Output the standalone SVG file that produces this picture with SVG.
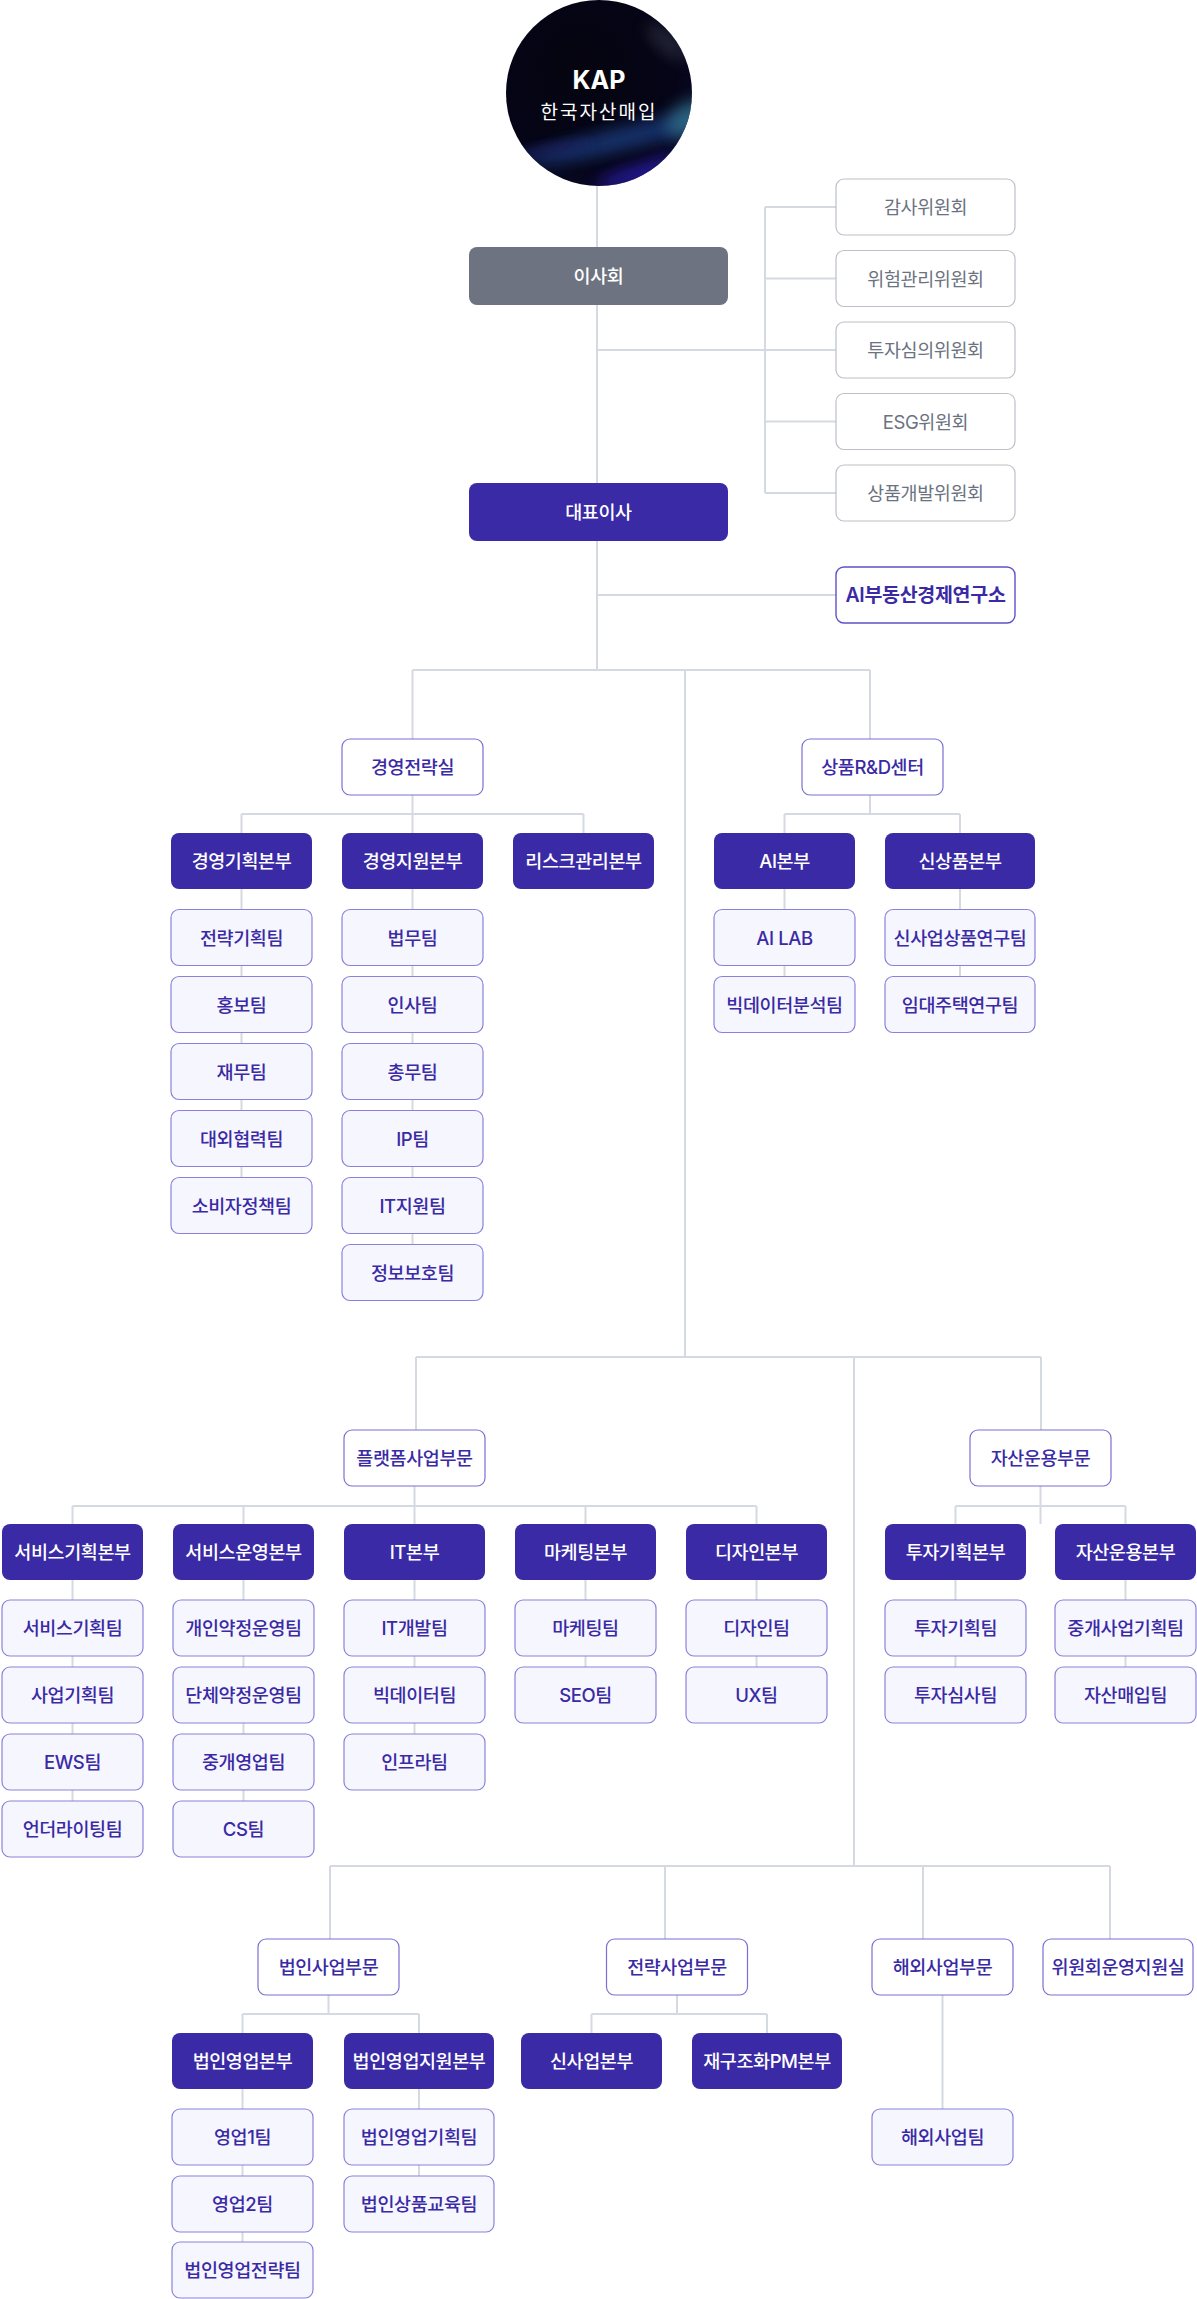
<svg xmlns="http://www.w3.org/2000/svg" width="1197" height="2299" viewBox="0 0 1197 2299">
<defs>
<style>
text{font-family:Inter,"Noto Sans CJK KR","Noto Sans",sans-serif;font-size:18.5px;text-anchor:middle;dominant-baseline:central;font-weight:500;letter-spacing:-0.4px}
.dark rect{fill:#3a2aa5}
.dark text{fill:#ffffff}
.team rect{fill:#f6f6fe;stroke:#8a82da;stroke-width:1.2}
.team text{fill:#3a2aa5}
.div rect{fill:#ffffff;stroke:#7a70d4;stroke-width:1.2}
.div text{fill:#3a2aa5}
.com rect{fill:#ffffff;stroke:#bcc0c8;stroke-width:1.2}
.com text{fill:#6b7280;font-weight:400}
.lab rect{fill:#ffffff;stroke:#5e52cc;stroke-width:1.4}
.lab text{fill:#3a2aa5;font-weight:600;font-size:19.5px;letter-spacing:-0.3px}
.board rect{fill:#6d7380}
.board text{fill:#ffffff}
#connectors path{fill:none;stroke:#d5d9e1;stroke-width:2}
</style>
<radialGradient id="gBase" cx="0.4" cy="0.35" r="0.75">
<stop offset="0" stop-color="#05040f"/>
<stop offset="0.7" stop-color="#060518"/>
<stop offset="1" stop-color="#0a0a2a"/>
</radialGradient>
<clipPath id="cc"><circle cx="599" cy="93" r="93"/></clipPath>
<filter id="b8" x="-50%" y="-50%" width="200%" height="200%"><feGaussianBlur stdDeviation="8"/></filter>
<filter id="b5" x="-50%" y="-50%" width="200%" height="200%"><feGaussianBlur stdDeviation="5"/></filter>
</defs>

<g id="connectors">
<path d="M597 100V670"/>
<path d="M597 350H836"/>
<path d="M765 207V493"/>
<path d="M765 207H836M765 278.5H836M765 421.5H836M765 493H836"/>
<path d="M597 595H836"/>
<path d="M412.5 670H870M412.5 670V739M870 670V739M685 670V1357"/>
<path d="M412.5 795V833M241.5 814H583.5M241.5 814V833M583.5 814V833"/>
<path d="M241.5 889V1205M412.5 889V1272"/>
<path d="M870 795V814M784.5 814H960M784.5 814V833M960 814V833"/>
<path d="M784.5 889V1004M960 889V1004"/>
<path d="M416 1357H1041M416 1357V1430M1041 1357V1430"/>
<path d="M414.5 1486V1524M72.5 1506H756.5M72.5 1506V1524M243.5 1506V1524M585.5 1506V1524M756.5 1506V1524"/>
<path d="M72.5 1580V1829M243.5 1580V1829M414.5 1580V1762M585.5 1580V1695M756.5 1580V1695"/>
<path d="M1040.5 1486V1524M955.5 1506H1125.5M955.5 1506V1524M1125.5 1506V1524"/>
<path d="M955.5 1580V1695M1125.5 1580V1695"/>
<path d="M854 1357V1866"/>
<path d="M330 1866H1110M330 1866V1939M665 1866V1939M923 1866V1939M1110 1866V1939"/>
<path d="M328.5 1995V2014M242.5 2014H419M242.5 2014V2033M419 2014V2033"/>
<path d="M242.5 2089V2270M419 2089V2204"/>
<path d="M677 1995V2014M591.5 2014H767M591.5 2014V2033M767 2014V2033"/>
<path d="M942.5 1995V2109"/>
</g>

<g id="logo">
<circle cx="599" cy="93" r="93" fill="url(#gBase)"/>
<g clip-path="url(#cc)">
<ellipse cx="668" cy="42" rx="26" ry="10" transform="rotate(40 668 42)" fill="#5b6274" opacity="0.35" filter="url(#b8)"/>
<ellipse cx="625" cy="138" rx="100" ry="11" transform="rotate(-14 625 138)" fill="#1d3f84" opacity="0.8" filter="url(#b8)"/>
<ellipse cx="690" cy="118" rx="26" ry="16" transform="rotate(-30 690 118)" fill="#35798f" opacity="0.7" filter="url(#b8)"/>
<ellipse cx="650" cy="172" rx="55" ry="10" transform="rotate(-15 650 172)" fill="#2a1aa8" opacity="0.85" filter="url(#b8)"/>
<ellipse cx="550" cy="150" rx="45" ry="7" transform="rotate(-10 550 150)" fill="#1a2060" opacity="0.6" filter="url(#b5)"/>
</g>
<text x="599" y="80" style="font-size:25px;font-weight:700;fill:#ffffff;letter-spacing:0">KAP</text>
<text x="599" y="112" style="font-size:19px;font-weight:400;fill:#ffffff;letter-spacing:2px">한국자산매입</text>
</g>

<g id="board" class="board"><rect x="469" y="247" width="259" height="58" rx="8"/><text x="598.5" y="276">이사회</text></g>
<g id="ceo" class="dark"><rect x="469" y="483" width="259" height="58" rx="8"/><text x="598.5" y="512">대표이사</text></g>

<g id="com1" class="com"><rect x="836" y="179" width="179" height="56" rx="8"/><text x="925.5" y="207">감사위원회</text></g>
<g id="com2" class="com"><rect x="836" y="250.5" width="179" height="56" rx="8"/><text x="925.5" y="278.5">위험관리위원회</text></g>
<g id="com3" class="com"><rect x="836" y="322" width="179" height="56" rx="8"/><text x="925.5" y="350">투자심의위원회</text></g>
<g id="com4" class="com"><rect x="836" y="393.5" width="179" height="56" rx="8"/><text x="925.5" y="421.5">ESG위원회</text></g>
<g id="com5" class="com"><rect x="836" y="465" width="179" height="56" rx="8"/><text x="925.5" y="493">상품개발위원회</text></g>
<g id="ailab-inst" class="lab"><rect x="836" y="567" width="179" height="56" rx="8"/><text x="925.5" y="595">AI부동산경제연구소</text></g>

<g id="mgmt" class="div"><rect x="342" y="739" width="141" height="56" rx="8"/><text x="412.5" y="767">경영전략실</text></g>
<g id="mgmt-plan" class="dark"><rect x="171" y="833" width="141" height="56" rx="8"/><text x="241.5" y="861">경영기획본부</text></g>
<g id="mgmt-sup" class="dark"><rect x="342" y="833" width="141" height="56" rx="8"/><text x="412.5" y="861">경영지원본부</text></g>
<g id="risk" class="dark"><rect x="513" y="833" width="141" height="56" rx="8"/><text x="583.5" y="861">리스크관리본부</text></g>
<g id="t-strat" class="team"><rect x="171" y="909.5" width="141" height="56" rx="8"/><text x="241.5" y="937.5">전략기획팀</text></g>
<g id="t-pr" class="team"><rect x="171" y="976.5" width="141" height="56" rx="8"/><text x="241.5" y="1004.5">홍보팀</text></g>
<g id="t-fin" class="team"><rect x="171" y="1043.5" width="141" height="56" rx="8"/><text x="241.5" y="1071.5">재무팀</text></g>
<g id="t-ext" class="team"><rect x="171" y="1110.5" width="141" height="56" rx="8"/><text x="241.5" y="1138.5">대외협력팀</text></g>
<g id="t-cons" class="team"><rect x="171" y="1177.5" width="141" height="56" rx="8"/><text x="241.5" y="1205.5">소비자정책팀</text></g>
<g id="t-law" class="team"><rect x="342" y="909.5" width="141" height="56" rx="8"/><text x="412.5" y="937.5">법무팀</text></g>
<g id="t-hr" class="team"><rect x="342" y="976.5" width="141" height="56" rx="8"/><text x="412.5" y="1004.5">인사팀</text></g>
<g id="t-ga" class="team"><rect x="342" y="1043.5" width="141" height="56" rx="8"/><text x="412.5" y="1071.5">총무팀</text></g>
<g id="t-ip" class="team"><rect x="342" y="1110.5" width="141" height="56" rx="8"/><text x="412.5" y="1138.5">IP팀</text></g>
<g id="t-its" class="team"><rect x="342" y="1177.5" width="141" height="56" rx="8"/><text x="412.5" y="1205.5">IT지원팀</text></g>
<g id="t-sec" class="team"><rect x="342" y="1244.5" width="141" height="56" rx="8"/><text x="412.5" y="1272.5">정보보호팀</text></g>

<g id="rnd" class="div"><rect x="802" y="739" width="141" height="56" rx="8"/><text x="872.5" y="767">상품R&amp;D센터</text></g>
<g id="ai" class="dark"><rect x="714" y="833" width="141" height="56" rx="8"/><text x="784.5" y="861">AI본부</text></g>
<g id="newprod" class="dark"><rect x="885" y="833" width="150" height="56" rx="8"/><text x="960" y="861">신상품본부</text></g>
<g id="t-ailab" class="team"><rect x="714" y="909.5" width="141" height="56" rx="8"/><text x="784.5" y="937.5">AI LAB</text></g>
<g id="t-bda" class="team"><rect x="714" y="976.5" width="141" height="56" rx="8"/><text x="784.5" y="1004.5">빅데이터분석팀</text></g>
<g id="t-nbr" class="team"><rect x="885" y="909.5" width="150" height="56" rx="8"/><text x="960" y="937.5">신사업상품연구팀</text></g>
<g id="t-rent" class="team"><rect x="885" y="976.5" width="150" height="56" rx="8"/><text x="960" y="1004.5">임대주택연구팀</text></g>

<g id="platform" class="div"><rect x="344" y="1430" width="141" height="56" rx="8"/><text x="414.5" y="1458">플랫폼사업부문</text></g>
<g id="asset" class="div"><rect x="970" y="1430" width="141" height="56" rx="8"/><text x="1040.5" y="1458">자산운용부문</text></g>
<g id="svc-plan" class="dark"><rect x="2" y="1524" width="141" height="56" rx="8"/><text x="72.5" y="1552">서비스기획본부</text></g>
<g id="svc-ops" class="dark"><rect x="173" y="1524" width="141" height="56" rx="8"/><text x="243.5" y="1552">서비스운영본부</text></g>
<g id="it" class="dark"><rect x="344" y="1524" width="141" height="56" rx="8"/><text x="414.5" y="1552">IT본부</text></g>
<g id="mkt" class="dark"><rect x="515" y="1524" width="141" height="56" rx="8"/><text x="585.5" y="1552">마케팅본부</text></g>
<g id="design" class="dark"><rect x="686" y="1524" width="141" height="56" rx="8"/><text x="756.5" y="1552">디자인본부</text></g>
<g id="inv-plan" class="dark"><rect x="885" y="1524" width="141" height="56" rx="8"/><text x="955.5" y="1552">투자기획본부</text></g>
<g id="asset-ops" class="dark"><rect x="1055" y="1524" width="141" height="56" rx="8"/><text x="1125.5" y="1552">자산운용본부</text></g>

<g id="t-svcplan" class="team"><rect x="2" y="1600" width="141" height="56" rx="8"/><text x="72.5" y="1628">서비스기획팀</text></g>
<g id="t-bizplan" class="team"><rect x="2" y="1667" width="141" height="56" rx="8"/><text x="72.5" y="1695">사업기획팀</text></g>
<g id="t-ews" class="team"><rect x="2" y="1734" width="141" height="56" rx="8"/><text x="72.5" y="1762">EWS팀</text></g>
<g id="t-uw" class="team"><rect x="2" y="1801" width="141" height="56" rx="8"/><text x="72.5" y="1829">언더라이팅팀</text></g>
<g id="t-ind" class="team"><rect x="173" y="1600" width="141" height="56" rx="8"/><text x="243.5" y="1628">개인약정운영팀</text></g>
<g id="t-grp" class="team"><rect x="173" y="1667" width="141" height="56" rx="8"/><text x="243.5" y="1695">단체약정운영팀</text></g>
<g id="t-brk" class="team"><rect x="173" y="1734" width="141" height="56" rx="8"/><text x="243.5" y="1762">중개영업팀</text></g>
<g id="t-cs" class="team"><rect x="173" y="1801" width="141" height="56" rx="8"/><text x="243.5" y="1829">CS팀</text></g>
<g id="t-itdev" class="team"><rect x="344" y="1600" width="141" height="56" rx="8"/><text x="414.5" y="1628">IT개발팀</text></g>
<g id="t-bd" class="team"><rect x="344" y="1667" width="141" height="56" rx="8"/><text x="414.5" y="1695">빅데이터팀</text></g>
<g id="t-infra" class="team"><rect x="344" y="1734" width="141" height="56" rx="8"/><text x="414.5" y="1762">인프라팀</text></g>
<g id="t-mkt" class="team"><rect x="515" y="1600" width="141" height="56" rx="8"/><text x="585.5" y="1628">마케팅팀</text></g>
<g id="t-seo" class="team"><rect x="515" y="1667" width="141" height="56" rx="8"/><text x="585.5" y="1695">SEO팀</text></g>
<g id="t-des" class="team"><rect x="686" y="1600" width="141" height="56" rx="8"/><text x="756.5" y="1628">디자인팀</text></g>
<g id="t-ux" class="team"><rect x="686" y="1667" width="141" height="56" rx="8"/><text x="756.5" y="1695">UX팀</text></g>
<g id="t-invplan" class="team"><rect x="885" y="1600" width="141" height="56" rx="8"/><text x="955.5" y="1628">투자기획팀</text></g>
<g id="t-invrev" class="team"><rect x="885" y="1667" width="141" height="56" rx="8"/><text x="955.5" y="1695">투자심사팀</text></g>
<g id="t-brkplan" class="team"><rect x="1055" y="1600" width="141" height="56" rx="8"/><text x="1125.5" y="1628">중개사업기획팀</text></g>
<g id="t-acq" class="team"><rect x="1055" y="1667" width="141" height="56" rx="8"/><text x="1125.5" y="1695">자산매입팀</text></g>

<g id="corp" class="div"><rect x="258" y="1939" width="141" height="56" rx="8"/><text x="328.5" y="1967">법인사업부문</text></g>
<g id="strat" class="div"><rect x="606.5" y="1939" width="141" height="56" rx="8"/><text x="677" y="1967">전략사업부문</text></g>
<g id="global" class="div"><rect x="872" y="1939" width="141" height="56" rx="8"/><text x="942.5" y="1967">해외사업부문</text></g>
<g id="comsup" class="div"><rect x="1043" y="1939" width="150" height="56" rx="8"/><text x="1118" y="1967">위원회운영지원실</text></g>
<g id="corp-sales" class="dark"><rect x="172" y="2033" width="141" height="56" rx="8"/><text x="242.5" y="2061">법인영업본부</text></g>
<g id="corp-sup" class="dark"><rect x="344" y="2033" width="150" height="56" rx="8"/><text x="419" y="2061">법인영업지원본부</text></g>
<g id="newbiz" class="dark"><rect x="521" y="2033" width="141" height="56" rx="8"/><text x="591.5" y="2061">신사업본부</text></g>
<g id="restr" class="dark"><rect x="692" y="2033" width="150" height="56" rx="8"/><text x="767" y="2061">재구조화PM본부</text></g>
<g id="t-s1" class="team"><rect x="172" y="2109" width="141" height="56" rx="8"/><text x="242.5" y="2137">영업1팀</text></g>
<g id="t-s2" class="team"><rect x="172" y="2176" width="141" height="56" rx="8"/><text x="242.5" y="2204">영업2팀</text></g>
<g id="t-sst" class="team"><rect x="172" y="2242" width="141" height="56" rx="8"/><text x="242.5" y="2270">법인영업전략팀</text></g>
<g id="t-cplan" class="team"><rect x="344" y="2109" width="150" height="56" rx="8"/><text x="419" y="2137">법인영업기획팀</text></g>
<g id="t-cedu" class="team"><rect x="344" y="2176" width="150" height="56" rx="8"/><text x="419" y="2204">법인상품교육팀</text></g>
<g id="t-global" class="team"><rect x="872" y="2109" width="141" height="56" rx="8"/><text x="942.5" y="2137">해외사업팀</text></g>
</svg>
